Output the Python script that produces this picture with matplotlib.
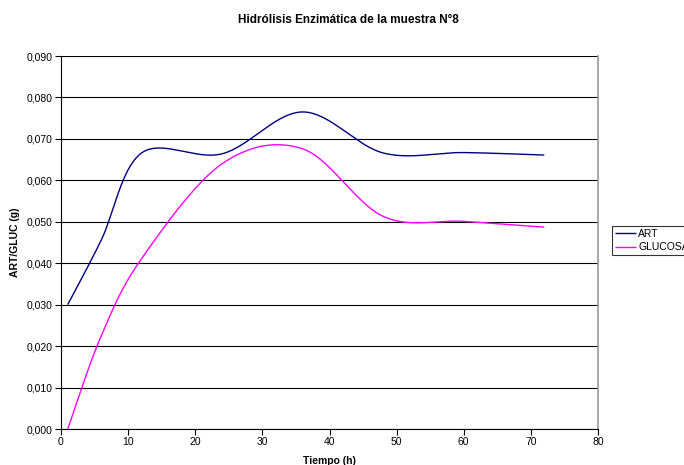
import numpy as np
import matplotlib
matplotlib.use("Agg")
import matplotlib.pyplot as plt

plt.rcParams['font.family'] = ['Liberation Sans', 'DejaVu Sans']

tiempo = [1, 6, 12, 24, 36, 48, 60, 72]
art = [0.0300, 0.0456, 0.0666, 0.0664, 0.0765, 0.0666, 0.0667, 0.0661]
glucosa = [0.0000, 0.0225, 0.0411, 0.0640, 0.0676, 0.0513, 0.0501, 0.0487]
series_names = ["ART", "GLUCOSA"]
series_colors = ["#000080", "#FF00FF"]
x_ticks = list(range(0, 81, 10))
y_ticks = [i / 100 for i in range(0, 10)]


def smooth(xs, ys, n=40):
    # Excel-style smoothed line: cubic Bezier segments with Catmull-Rom control points
    P = np.column_stack([xs, ys]).astype(float)
    P = np.vstack([P[0], P, P[-1]])
    out = []
    for i in range(1, len(P) - 2):
        p0, p1, p2, p3 = P[i - 1], P[i], P[i + 1], P[i + 2]
        c1 = p1 + (p2 - p0) / 6.0
        c2 = p2 - (p3 - p1) / 6.0
        t = np.linspace(0, 1, n)[:, None]
        seg = ((1 - t) ** 3) * p1 + 3 * ((1 - t) ** 2) * t * c1 + 3 * (1 - t) * t ** 2 * c2 + t ** 3 * p2
        out.append(seg if i == 1 else seg[1:])
    out = np.vstack(out)
    return out[:, 0], out[:, 1]


fig = plt.figure(figsize=(6.84, 4.65), dpi=100)
ax = fig.add_axes([61 / 684, 1 - 429 / 465, (598 - 61) / 684, (429 - 56) / 465])

for name, ys, c in zip(series_names, [art, glucosa], series_colors):
    sx, sy = smooth(tiempo, ys)
    ax.plot(sx, sy, color=c, lw=1.0, label=name, solid_capstyle='butt')

ax.set_xlim(0, 80)
ax.set_ylim(0, 0.09)
ax.set_xticks(x_ticks)
ax.set_yticks(y_ticks)
ax.set_yticklabels([f"{v:.3f}".replace('.', ',') for v in y_ticks])
ax.grid(axis='y', color='black', lw=0.8)
ax.set_axisbelow(True)
ax.spines['top'].set_visible(False)
ax.spines['right'].set_color('#999999')
ax.spines['right'].set_linewidth(1.2)
ax.spines['left'].set_color('black')
ax.spines['bottom'].set_color('black')
ax.tick_params(axis='both', direction='out', length=4, width=0.8, labelsize=7.5, colors='black', pad=2)

ax.set_xlabel("Tiempo (h)", fontsize=7.5, fontweight='bold', labelpad=6)
ax.set_ylabel("ART/GLUC (g)", fontsize=7.5, fontweight='bold', labelpad=5)
fig.text(348 / 684, 1 - 20 / 465, "Hidrólisis Enzimática de la muestra N°8",
         ha='center', va='center', fontsize=8.5, fontweight='bold')

leg = fig.legend(loc='upper left', bbox_to_anchor=(612 / 684, 1 - 226 / 465),
                 fontsize=7.5, frameon=True, fancybox=False, edgecolor='black',
                 handlelength=2.0, handletextpad=0.2, borderpad=0.3, labelspacing=0.3,
                 borderaxespad=0)
leg.get_frame().set_linewidth(0.8)

fig.savefig("out.png", dpi=100)
